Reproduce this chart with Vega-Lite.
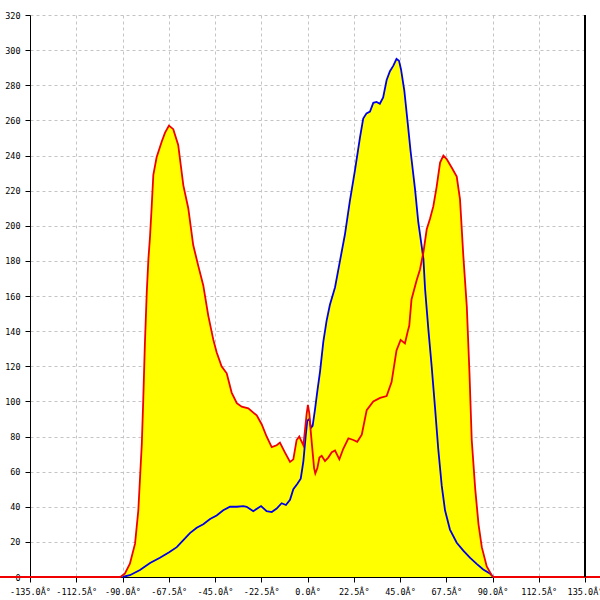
{
  "$schema": "https://vega.github.io/schema/vega-lite/v6.json",
  "autosize": {"type": "none"},
  "padding": {"left": 30, "top": 15, "right": 15, "bottom": 23},
  "width": 555,
  "height": 562,
  "background": "white",
  "config": {
    "view": {"stroke": null},
    "axis": {
      "labelFont": "DejaVu Sans Mono",
      "labelFontSize": 8.5,
      "labelColor": "black",
      "domainColor": "black",
      "domainWidth": 1,
      "tickColor": "black",
      "tickSize": 5,
      "gridColor": "#c4c4c4",
      "gridDash": [3, 3],
      "gridWidth": 1,
      "title": null
    }
  },
  "data": {
    "values": [
      {"series": "red", "x": -180, "y": 0},
      {"series": "red", "x": -91, "y": 0},
      {"series": "red", "x": -88.8, "y": 2},
      {"series": "red", "x": -86.4, "y": 7.6},
      {"series": "red", "x": -83.9, "y": 19},
      {"series": "red", "x": -82.3, "y": 38},
      {"series": "red", "x": -80.6, "y": 76},
      {"series": "red", "x": -79.9, "y": 101},
      {"series": "red", "x": -79.1, "y": 133},
      {"series": "red", "x": -78.2, "y": 162},
      {"series": "red", "x": -77.4, "y": 181},
      {"series": "red", "x": -76.6, "y": 194},
      {"series": "red", "x": -75.8, "y": 211},
      {"series": "red", "x": -75.0, "y": 229},
      {"series": "red", "x": -73.4, "y": 239},
      {"series": "red", "x": -70.9, "y": 248},
      {"series": "red", "x": -69.3, "y": 253},
      {"series": "red", "x": -67.4, "y": 257},
      {"series": "red", "x": -65.3, "y": 255},
      {"series": "red", "x": -62.9, "y": 246},
      {"series": "red", "x": -60.4, "y": 223},
      {"series": "red", "x": -58.0, "y": 210},
      {"series": "red", "x": -55.6, "y": 189},
      {"series": "red", "x": -53.1, "y": 177},
      {"series": "red", "x": -50.7, "y": 166},
      {"series": "red", "x": -48.3, "y": 149},
      {"series": "red", "x": -45.8, "y": 135},
      {"series": "red", "x": -44.2, "y": 128},
      {"series": "red", "x": -41.8, "y": 120},
      {"series": "red", "x": -39.3, "y": 116},
      {"series": "red", "x": -36.9, "y": 105},
      {"series": "red", "x": -34.4, "y": 99},
      {"series": "red", "x": -32.0, "y": 97},
      {"series": "red", "x": -28.8, "y": 96},
      {"series": "red", "x": -24.7, "y": 92},
      {"series": "red", "x": -22.3, "y": 87},
      {"series": "red", "x": -19.9, "y": 80},
      {"series": "red", "x": -17.4, "y": 74},
      {"series": "red", "x": -15.0, "y": 75},
      {"series": "red", "x": -13.4, "y": 76.5},
      {"series": "red", "x": -11.0, "y": 71},
      {"series": "red", "x": -8.5, "y": 65.5},
      {"series": "red", "x": -6.9, "y": 67},
      {"series": "red", "x": -5.3, "y": 78},
      {"series": "red", "x": -4.0, "y": 80},
      {"series": "red", "x": -2.8, "y": 77},
      {"series": "red", "x": -2.0, "y": 75},
      {"series": "red", "x": -1.2, "y": 84},
      {"series": "red", "x": -0.4, "y": 93},
      {"series": "red", "x": 0.2, "y": 98},
      {"series": "red", "x": 0.9, "y": 93},
      {"series": "red", "x": 1.5, "y": 84},
      {"series": "red", "x": 2.5, "y": 71},
      {"series": "red", "x": 3.2, "y": 62},
      {"series": "red", "x": 3.8, "y": 59},
      {"series": "red", "x": 4.8, "y": 62},
      {"series": "red", "x": 5.8, "y": 68},
      {"series": "red", "x": 6.9, "y": 69},
      {"series": "red", "x": 8.5, "y": 66},
      {"series": "red", "x": 10.1, "y": 68},
      {"series": "red", "x": 11.8, "y": 71},
      {"series": "red", "x": 13.4, "y": 72},
      {"series": "red", "x": 15.5, "y": 67},
      {"series": "red", "x": 17.4, "y": 73},
      {"series": "red", "x": 19.9, "y": 79},
      {"series": "red", "x": 22.3, "y": 78},
      {"series": "red", "x": 24.2, "y": 77},
      {"series": "red", "x": 26.4, "y": 81},
      {"series": "red", "x": 28.8, "y": 95},
      {"series": "red", "x": 32.0, "y": 100},
      {"series": "red", "x": 35.3, "y": 102},
      {"series": "red", "x": 38.5, "y": 103},
      {"series": "red", "x": 40.9, "y": 111},
      {"series": "red", "x": 43.3, "y": 129},
      {"series": "red", "x": 45.3, "y": 135},
      {"series": "red", "x": 47.4, "y": 133},
      {"series": "red", "x": 48.8, "y": 140},
      {"series": "red", "x": 49.5, "y": 143},
      {"series": "red", "x": 50.6, "y": 158},
      {"series": "red", "x": 51.5, "y": 162},
      {"series": "red", "x": 53.1, "y": 169},
      {"series": "red", "x": 54.7, "y": 175},
      {"series": "red", "x": 56.4, "y": 185},
      {"series": "red", "x": 58.0, "y": 198},
      {"series": "red", "x": 59.6, "y": 204},
      {"series": "red", "x": 61.2, "y": 211},
      {"series": "red", "x": 62.8, "y": 222},
      {"series": "red", "x": 64.5, "y": 236},
      {"series": "red", "x": 66.1, "y": 240},
      {"series": "red", "x": 67.7, "y": 238},
      {"series": "red", "x": 70.2, "y": 233},
      {"series": "red", "x": 72.6, "y": 228},
      {"series": "red", "x": 74.2, "y": 215},
      {"series": "red", "x": 75.8, "y": 183},
      {"series": "red", "x": 77.5, "y": 154},
      {"series": "red", "x": 78.8, "y": 116},
      {"series": "red", "x": 79.9, "y": 78},
      {"series": "red", "x": 81.6, "y": 50},
      {"series": "red", "x": 83.2, "y": 30},
      {"series": "red", "x": 84.8, "y": 17},
      {"series": "red", "x": 87.2, "y": 6},
      {"series": "red", "x": 89.6, "y": 1},
      {"series": "red", "x": 90.4, "y": 0},
      {"series": "red", "x": 180, "y": 0},
      {"series": "blue", "x": -90, "y": 0},
      {"series": "blue", "x": -86.4, "y": 1},
      {"series": "blue", "x": -81.5, "y": 4},
      {"series": "blue", "x": -76.6, "y": 8},
      {"series": "blue", "x": -71.8, "y": 11},
      {"series": "blue", "x": -67.5, "y": 14},
      {"series": "blue", "x": -63.6, "y": 17},
      {"series": "blue", "x": -60.4, "y": 21},
      {"series": "blue", "x": -57.2, "y": 25},
      {"series": "blue", "x": -53.9, "y": 28},
      {"series": "blue", "x": -50.7, "y": 30},
      {"series": "blue", "x": -47.4, "y": 33},
      {"series": "blue", "x": -44.2, "y": 35},
      {"series": "blue", "x": -41.0, "y": 38},
      {"series": "blue", "x": -37.7, "y": 40},
      {"series": "blue", "x": -34.4, "y": 40},
      {"series": "blue", "x": -31.2, "y": 40.4},
      {"series": "blue", "x": -29.6, "y": 40},
      {"series": "blue", "x": -26.4, "y": 37.5},
      {"series": "blue", "x": -22.6, "y": 40.4},
      {"series": "blue", "x": -19.9, "y": 37.5},
      {"series": "blue", "x": -17.4, "y": 37},
      {"series": "blue", "x": -15.0, "y": 39},
      {"series": "blue", "x": -12.6, "y": 42},
      {"series": "blue", "x": -10.5, "y": 41},
      {"series": "blue", "x": -8.5, "y": 44},
      {"series": "blue", "x": -6.9, "y": 50},
      {"series": "blue", "x": -5.0, "y": 53},
      {"series": "blue", "x": -3.3, "y": 56},
      {"series": "blue", "x": -2.5, "y": 62},
      {"series": "blue", "x": -2.0, "y": 66},
      {"series": "blue", "x": -0.9, "y": 80},
      {"series": "blue", "x": -0.1, "y": 89},
      {"series": "blue", "x": 0.9, "y": 90},
      {"series": "blue", "x": 1.7, "y": 85},
      {"series": "blue", "x": 2.5, "y": 86},
      {"series": "blue", "x": 3.6, "y": 95},
      {"series": "blue", "x": 4.8, "y": 106},
      {"series": "blue", "x": 6.1, "y": 117},
      {"series": "blue", "x": 7.7, "y": 134},
      {"series": "blue", "x": 9.3, "y": 146},
      {"series": "blue", "x": 10.9, "y": 155},
      {"series": "blue", "x": 13.4, "y": 165},
      {"series": "blue", "x": 15.8, "y": 180},
      {"series": "blue", "x": 18.2, "y": 195},
      {"series": "blue", "x": 20.6, "y": 214},
      {"series": "blue", "x": 23.0, "y": 231},
      {"series": "blue", "x": 25.5, "y": 250},
      {"series": "blue", "x": 27.1, "y": 261},
      {"series": "blue", "x": 28.7, "y": 264},
      {"series": "blue", "x": 30.4, "y": 265},
      {"series": "blue", "x": 32.0, "y": 270},
      {"series": "blue", "x": 33.6, "y": 270.5},
      {"series": "blue", "x": 35.2, "y": 269.5},
      {"series": "blue", "x": 36.8, "y": 273},
      {"series": "blue", "x": 38.5, "y": 283},
      {"series": "blue", "x": 40.1, "y": 288},
      {"series": "blue", "x": 41.7, "y": 291},
      {"series": "blue", "x": 43.3, "y": 295},
      {"series": "blue", "x": 44.5, "y": 294},
      {"series": "blue", "x": 45.5, "y": 289},
      {"series": "blue", "x": 47.1, "y": 277},
      {"series": "blue", "x": 48.8, "y": 258},
      {"series": "blue", "x": 50.1, "y": 243},
      {"series": "blue", "x": 52.3, "y": 221},
      {"series": "blue", "x": 53.9, "y": 202},
      {"series": "blue", "x": 55.6, "y": 188},
      {"series": "blue", "x": 56.4, "y": 181},
      {"series": "blue", "x": 57.2, "y": 164},
      {"series": "blue", "x": 58.8, "y": 141},
      {"series": "blue", "x": 60.4, "y": 120},
      {"series": "blue", "x": 62.0, "y": 97},
      {"series": "blue", "x": 63.6, "y": 73},
      {"series": "blue", "x": 65.3, "y": 52},
      {"series": "blue", "x": 66.9, "y": 38},
      {"series": "blue", "x": 69.3, "y": 27},
      {"series": "blue", "x": 72.6, "y": 19.5},
      {"series": "blue", "x": 75.8, "y": 15},
      {"series": "blue", "x": 79.0, "y": 11},
      {"series": "blue", "x": 82.3, "y": 7.5},
      {"series": "blue", "x": 85.5, "y": 4.3},
      {"series": "blue", "x": 88.7, "y": 2},
      {"series": "blue", "x": 90.4, "y": 0}
    ]
  },
  "encoding": {
    "x": {
      "field": "x",
      "type": "quantitative",
      "scale": {"domain": [-135, 135], "nice": false, "zero": false},
      "axis": {
        "values": [-135, -112.5, -90, -67.5, -45, -22.5, 0, 22.5, 45, 67.5, 90, 112.5, 135],
        "labelExpr": "(datum.value < 0 ? '-' : '') + format(abs(datum.value), '.1f') + 'Â°'",
        "labelFlush": false,
        "labelPadding": 5,
        "labelOverlap": false
      }
    },
    "y": {
      "field": "y",
      "type": "quantitative",
      "scale": {"domain": [0, 320], "nice": false},
      "axis": {
        "values": [0, 20, 40, 60, 80, 100, 120, 140, 160, 180, 200, 220, 240, 260, 280, 300, 320],
        "labelPadding": 5,
        "labelOverlap": false
      }
    }
  },
  "layer": [
    {
      "mark": {"type": "area", "color": "#ffff00", "opacity": 1},
      "encoding": {
        "detail": {"field": "series", "type": "nominal"},
        "y": {"field": "y", "type": "quantitative", "stack": null}
      }
    },
    {
      "transform": [{"filter": "datum.series == 'blue'"}],
      "mark": {"type": "line", "color": "#0000e6", "strokeWidth": 1.8}
    },
    {
      "transform": [{"filter": "datum.series == 'red'"}],
      "mark": {"type": "line", "color": "#f00000", "strokeWidth": 1.8}
    },
    {
      "mark": {"type": "rule", "color": "black", "strokeWidth": 1},
      "encoding": {
        "x": {"datum": 135},
        "y": null
      }
    }
  ]
}
